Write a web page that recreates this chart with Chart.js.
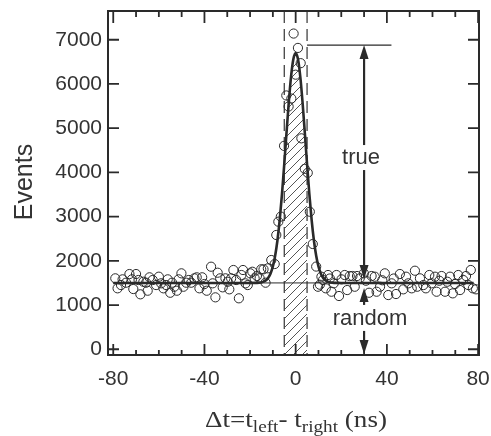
<!DOCTYPE html>
<html>
<head>
<meta charset="utf-8">
<script src="https://cdn.jsdelivr.net/npm/chart.js@4/dist/chart.umd.min.js"></script>
<style>
  html, body { margin: 0; padding: 0; background: #fff; }
</style>
</head>
<body>
<canvas id="myChart" width="491" height="436"></canvas>
<script>
// measured coincidences: delta t (ns) and events per bin
const dtNs = [
  -79.1, -78.1, -76.6, -75.9, -74.4, -72.9, -71.8, -71.2, -70.0, -68.9,
  -68.1, -66.8, -65.6, -64.9, -64.1, -62.7, -61.2, -60.0, -59.0, -58.0,
  -56.8, -56.1, -55.0, -54.2, -53.2, -52.1, -51.3, -50.1, -49.2, -48.0,
  -46.9, -45.8, -44.4, -43.4, -42.2, -41.0, -40.0, -39.0, -37.1, -36.4,
  -35.2, -34.2, -33.1, -32.0, -30.8, -29.8, -29.1, -28.3, -27.3, -26.1,
  -24.9, -23.8, -23.1, -22.0, -21.0, -19.9, -19.0, -18.0, -17.0, -15.8,
  -15.1, -14.1, -13.2, -12.2, -10.7, -9.2, -8.5, -7.6, -6.5, -5.1,
  -4.1, -3.1, -1.9, -0.9, 0.0, 1.0, 2.2, 2.5, 4.0, 5.3,
  6.2, 7.5, 9.0, 9.8, 10.6, 11.3, 12.0, 13.2, 14.2, 15.0,
  15.7, 16.7, 17.9, 19.0, 20.1, 21.5, 22.6, 23.7, 24.9, 25.9,
  26.9, 28.1, 29.9, 30.8, 32.2, 33.3, 34.7, 35.5, 37.0, 38.0,
  39.1, 40.6, 42.1, 43.0, 44.0, 45.7, 47.2, 48.4, 49.4, 50.9,
  52.3, 53.3, 54.5, 56.0, 57.1, 58.6, 59.6, 61.1, 61.8, 63.0,
  64.0, 65.5, 66.5, 67.7, 68.9, 69.9, 71.3, 72.1, 73.5, 74.7,
  75.7, 76.8, 77.7, 79.1
];
const events = [
  1604, 1378, 1452, 1581, 1505, 1701, 1581, 1362, 1701, 1566,
  1242, 1527, 1505, 1324, 1627, 1566, 1452, 1641, 1491, 1378,
  1452, 1581, 1278, 1505, 1414, 1324, 1581, 1717, 1414, 1505,
  1566, 1505, 1604, 1627, 1378, 1627, 1475, 1324, 1867, 1491,
  1174, 1731, 1604, 1400, 1604, 1527, 1355, 1604, 1792, 1566,
  1152, 1679, 1792, 1491, 1452, 1717, 1753, 1604, 1656, 1604,
  1808, 1808, 1505, 1830, 2018, 1928, 2584, 2885, 3000, 4600,
  5740, 5490, 5670, 7140, 6210, 6815, 6470, 4770, 4080, 3990,
  3110, 2380, 1870, 1414, 1460, 1641, 1566, 1378, 1679, 1600,
  1301, 1491, 1679, 1204, 1581, 1679, 1339, 1656, 1656, 1414,
  1656, 1604, 1717, 1550, 1278, 1656, 1641, 1301, 1414, 1560,
  1717, 1226, 1491, 1600, 1249, 1701, 1355, 1641, 1491, 1378,
  1776, 1414, 1604, 1452, 1378, 1679, 1491, 1641, 1301, 1550,
  1656, 1301, 1527, 1641, 1264, 1475, 1679, 1339, 1566, 1656,
  1452, 1792, 1378, 1355
];

// fitted curve (gaussian peak on flat background)
const fitX = [-80, -20, -18, -16, -15, -14, -13, -12, -11, -10, -9, -8, -7, -6, -5, -4, -3, -2, -1, 0,
  1, 2, 3, 4, 5, 6, 7, 8, 9, 10, 11, 12, 13, 14, 15, 16, 18, 20, 78];
const fitY = [1500, 1500, 1501, 1507, 1515, 1530, 1562, 1618, 1715, 1873, 2115, 2460, 2925, 3508, 4184, 4906, 5598, 6177, 6564, 6700,
  6564, 6177, 5598, 4906, 4184, 3508, 2925, 2460, 2115, 1873, 1715, 1618, 1562, 1530, 1515, 1507, 1501, 1500, 1500];

// flat random background level
const bgX = [-80, 78];
const bgY = [1500, 1500];

// coincidence window
const windowX = [-5, 5];

// axis ticks
const xTickLabels = [-80, -40, 0, 40, 80];
const xMinor = [-70, -60, -50, -30, -20, -10, 10, 20, 30, 50, 60, 70];
const yTickLabels = [0, 1000, 2000, 3000, 4000, 5000, 6000, 7000];

// annotation (data units)
const peakMark = 6880;
const peakMarkX = [5, 42];
const arrowX = 30;
const bgLevel = 1500;

const sans = "'Liberation Sans', Arial, sans-serif";
const serif = "'Liberation Serif', 'Times New Roman', serif";
const ink = '#2a2a2a';

function hatchPattern() {
  let c = document.createElement('canvas');
  c.width = 9; c.height = 9;
  let g = c.getContext('2d');
  g.strokeStyle = '#555';
  g.lineWidth = 1;
  g.beginPath();
  g.moveTo(0, 9); g.lineTo(9, 0);
  g.moveTo(-2, 2); g.lineTo(2, -2);
  g.moveTo(7, 11); g.lineTo(11, 7);
  g.stroke();
  return g.createPattern(c, 'repeat');
}

let windowPts = [];
fitX.forEach((v, i) => { if (v >= windowX[0] && v <= windowX[1]) windowPts.push({ x: v, y: fitY[i] }) });

function arrowHead(ctx, x, tip, dir) {
  // dir = -1 points up, 1 points down
  ctx.beginPath();
  ctx.moveTo(x, tip);
  ctx.lineTo(x - 4.5, tip - dir * 14);
  ctx.lineTo(x + 4.5, tip - dir * 14);
  ctx.closePath();
  ctx.fill();
}

function vline(ctx, x, y1, y2) {
  ctx.beginPath();
  ctx.moveTo(x, y1);
  ctx.lineTo(x, y2);
  ctx.stroke();
}

const deco = {
  id: 'deco',
  beforeDatasetsDraw(chart) {
    const { ctx, chartArea: ca, scales: { x } } = chart;
    ctx.save();
    ctx.strokeStyle = '#333';
    ctx.lineWidth = 1.2;
    ctx.setLineDash([12, 6]);
    windowX.forEach(v => {
      let px = x.getPixelForValue(v);
      vline(ctx, px, ca.top, ca.bottom);
    });
    ctx.restore();
  },
  afterDatasetsDraw(chart) {
    const { ctx, scales: { x, y } } = chart;
    let ax = x.getPixelForValue(arrowX);
    ctx.save();
    ctx.strokeStyle = ink;
    ctx.fillStyle = ink;
    // peak marker line
    ctx.lineWidth = 1.3;
    let py = y.getPixelForValue(peakMark);
    ctx.beginPath();
    ctx.moveTo(x.getPixelForValue(peakMarkX[0]), py);
    ctx.lineTo(x.getPixelForValue(peakMarkX[1]), py);
    ctx.stroke();

    ctx.lineWidth = 2.2;
    let by = y.getPixelForValue(bgLevel);
    // "true" arrow
    vline(ctx, ax, py + 10, py + 100);
    vline(ctx, ax, py + 125, by - 10);
    arrowHead(ctx, ax, py, -1);
    arrowHead(ctx, ax, by - 4, 1);
    // "random" arrow
    let zy = chart.chartArea.bottom;
    vline(ctx, ax, by + 10, by + 22);
    vline(ctx, ax, by + 48, zy - 10);
    arrowHead(ctx, ax, by + 5, -1);
    arrowHead(ctx, ax, zy - 1, 1);

    ctx.font = '22px ' + sans;
    ctx.fillStyle = '#333';
    ctx.textAlign = 'center';
    ctx.textBaseline = 'middle';
    ctx.fillText('true', ax - 3, py + 113);
    ctx.fillText('random', ax + 6, by + 36);
    ctx.restore();
  },
  afterDraw(chart) {
    const { ctx, chartArea: ca, scales: { x, y } } = chart;
    ctx.save();
    ctx.strokeStyle = ink;
    ctx.lineWidth = 2;
    ctx.strokeRect(ca.left, ca.top, ca.right - ca.left, ca.bottom - ca.top);
    ctx.lineWidth = 1.8;
    xTickLabels.forEach(v => {
      let px = x.getPixelForValue(v);
      vline(ctx, px, ca.bottom, ca.bottom - 11);
      vline(ctx, px, ca.top, ca.top + 12);
    });
    xMinor.forEach(v => {
      let px = x.getPixelForValue(v);
      vline(ctx, px, ca.bottom, ca.bottom - 5);
      vline(ctx, px, ca.top, ca.top + 6);
    });
    yTickLabels.forEach(v => {
      let py = y.getPixelForValue(v);
      ctx.beginPath();
      ctx.moveTo(ca.left, py); ctx.lineTo(ca.left + 11, py);
      ctx.moveTo(ca.right, py); ctx.lineTo(ca.right - 11, py);
      ctx.stroke();
    });

    // y title
    ctx.fillStyle = '#333';
    ctx.font = '25px ' + sans;
    ctx.textAlign = 'center';
    ctx.textBaseline = 'middle';
    ctx.save();
    ctx.translate(25, 182);
    ctx.rotate(-Math.PI / 2);
    ctx.fillText('Events', 0, 0);
    ctx.restore();

    // x title with subscripts, slightly widened like the original typesetting
    let parts = [['\u0394t=t', 0], ['left', 1], ['- t', 0], ['right', 1], [' (ns)', 0]];
    let big = '24px ' + serif, small = '17px ' + serif;
    let w = 0;
    parts.forEach(p => { ctx.font = p[1] ? small : big; w += ctx.measureText(p[0]).width; });
    let stretch = 182 / w;
    ctx.save();
    ctx.translate(296 - 91, 427);
    ctx.scale(stretch, 1);
    let cx = 0;
    ctx.textAlign = 'left';
    ctx.textBaseline = 'alphabetic';
    parts.forEach(p => {
      ctx.font = p[1] ? small : big;
      ctx.fillText(p[0], cx, p[1] ? 5 : 0);
      cx += ctx.measureText(p[0]).width;
    });
    ctx.restore();
    ctx.restore();
  }
};

const chart = new Chart('myChart', {
  type: 'scatter',
  data: {
    datasets: [
      {
        type: 'line',
        data: windowPts,
        borderWidth: 0,
        pointRadius: 0,
        fill: 'start',
        backgroundColor: hatchPattern(),
        cubicInterpolationMode: 'monotone',
        order: 4
      },
      {
        type: 'line',
        data: bgX.map((v, i) => ({ x: v, y: bgY[i] })),
        borderColor: ink,
        borderWidth: 1,
        pointRadius: 0,
        fill: false,
        order: 3
      },
      {
        type: 'line',
        data: fitX.map((v, i) => ({ x: v, y: fitY[i] })),
        borderColor: ink,
        borderWidth: 2.6,
        pointRadius: 0,
        fill: false,
        cubicInterpolationMode: 'monotone',
        order: 2
      },
      {
        data: dtNs.map((v, i) => ({ x: v, y: events[i] })),
        pointStyle: 'circle',
        pointRadius: 4.6,
        pointBorderWidth: 1,
        pointBorderColor: ink,
        pointBackgroundColor: 'rgba(255,255,255,0)',
        order: 1
      }
    ]
  },
  options: {
    responsive: false,
    animation: false,
    events: [],
    layout: { padding: { top: 11, right: 12, left: 0, bottom: 0 } },
    plugins: { legend: { display: false }, tooltip: { enabled: false } },
    scales: {
      x: {
        type: 'linear',
        min: -82.3,
        max: 80.4,
        afterBuildTicks: s => { s.ticks = xTickLabels.map(v => ({ value: v })) },
        afterFit: s => { s.height = 81; s.paddingLeft = 0; s.paddingRight = 0 },
        grid: { display: false, drawTicks: false },
        border: { display: false },
        ticks: {
          autoSkip: false, maxRotation: 0, padding: 12,
          color: '#333', font: { family: sans, size: 21 },
          callback: v => String(v)
        }
      },
      y: {
        min: -130,
        max: 7650,
        afterBuildTicks: s => { s.ticks = yTickLabels.map(v => ({ value: v })) },
        afterFit: s => { s.width = 108; s.paddingTop = 0; s.paddingBottom = 0 },
        grid: { display: false, drawTicks: false },
        border: { display: false },
        ticks: {
          autoSkip: false, padding: 6,
          color: '#333', font: { family: sans, size: 21 },
          callback: v => String(v)
        }
      }
    }
  },
  plugins: [deco]
});
</script>
</body>
</html>
